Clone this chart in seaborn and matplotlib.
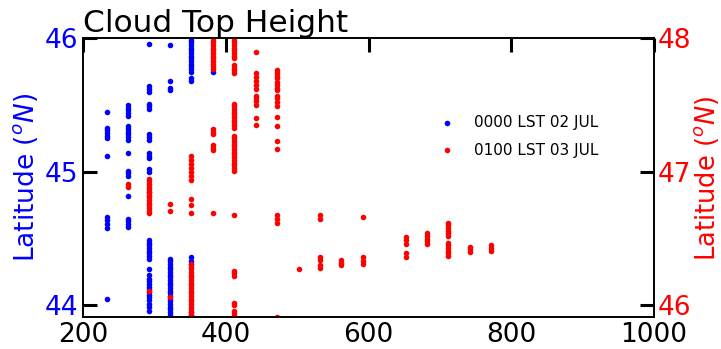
import numpy as np
import pandas as pd
import matplotlib
matplotlib.use("Agg")
import matplotlib.pyplot as plt
import seaborn as sns

# ---- data: 0000 LST 02 JUL (left axis, blue) ----
blue_height = ([233] * 12 + [263] * 20 + [293] * 38 + [322] * 26 + [352] * 20 + [382] * 1)
blue_lat = [
    # 233
    45.45, 45.33, 45.31, 45.29, 45.27, 45.25, 45.12, 44.66, 44.64, 44.61, 44.58, 44.05,
    # 263
    45.50, 45.48, 45.46, 45.44, 45.42, 45.34, 45.32, 45.30, 45.28, 45.26, 45.24, 45.14,
    45.01, 44.99, 44.97, 44.82, 44.65, 44.63, 44.61, 44.59,
    # 293
    45.96, 45.64, 45.62, 45.60, 45.51, 45.49, 45.47, 45.28, 45.26, 45.24, 45.14, 45.12,
    45.10, 45.02, 45.00, 44.85, 44.49, 44.47, 44.45, 44.43, 44.41, 44.39, 44.37, 44.35,
    44.27, 44.23, 44.18, 44.16, 44.14, 44.12, 44.10, 44.08, 44.06, 44.01, 43.99, 43.96,
    44.20, 44.04,
    # 322
    45.95, 45.68, 45.63, 45.61, 44.35, 44.33, 44.31, 44.29, 44.27, 44.25, 44.23, 44.21,
    44.19, 44.17, 44.15, 44.13, 44.11, 44.09, 44.07, 44.05, 44.03, 44.01, 43.99, 43.97,
    43.95, 43.93,
    # 352
    45.99, 45.97, 45.95, 45.93, 45.91, 45.89, 45.87, 45.85, 45.83, 45.81, 45.79, 45.77,
    45.75, 45.70, 45.68, 44.36, 44.33, 44.31, 43.95, 43.93,
    # 382
    45.75,
]

# ---- data: 0100 LST 03 JUL (right axis, red) ----
red_height = ([263] * 2 + [293] * 15 + [322] * 3 + [352] * 30 + [382] * 19 + [412] * 45
              + [442] * 12 + [472] * 20 + [502] * 1 + [532] * 6 + [562] * 3 + [592] * 4
              + [652] * 5 + [682] * 5 + [712] * 12 + [742] * 3 + [772] * 3)
red_lat = [
    # 263
    46.91, 46.89,
    # 293
    46.95, 46.93, 46.91, 46.89, 46.87, 46.85, 46.83, 46.81, 46.79, 46.77, 46.75, 46.73,
    46.71, 46.69, 46.11,
    # 322
    46.76, 46.71, 46.06,
    # 352
    47.12, 47.09, 47.06, 47.03, 47.00, 46.97, 46.94, 46.80, 46.75, 46.69,
    46.31, 46.29, 46.27, 46.25, 46.23, 46.21, 46.19, 46.17, 46.15, 46.13,
    46.11, 46.09, 46.07, 46.05, 46.03, 46.01, 45.99, 45.97, 45.95, 45.93,
    # 382
    47.99, 47.97, 47.95, 47.93, 47.91, 47.89, 47.87, 47.85, 47.83, 47.81, 47.79, 47.77,
    47.32, 47.30, 47.28, 47.20, 47.18, 47.16, 46.69,
    # 412
    47.99, 47.97, 47.95, 47.93, 47.91, 47.89, 47.87, 47.85, 47.80, 47.78, 47.76, 47.74,
    47.51, 47.49, 47.47, 47.45, 47.43, 47.41, 47.39, 47.37, 47.35, 47.33,
    47.27, 47.25, 47.23, 47.21, 47.19, 47.17, 47.15, 47.13, 47.11, 47.09, 47.07, 47.05,
    47.03, 47.01, 46.68, 46.26, 46.24, 46.22, 46.02, 46.00, 45.96, 45.94, 45.92,
    # 442
    47.90, 47.74, 47.71, 47.68, 47.65, 47.62, 47.57, 47.55, 47.53, 47.50, 47.40, 47.35,
    # 472
    47.76, 47.74, 47.72, 47.70, 47.67, 47.65, 47.63, 47.61, 47.57, 47.55, 47.52, 47.49,
    47.41, 47.34, 47.23, 47.17, 46.68, 46.65, 46.62, 45.91,
    # 502
    46.27,
    # 532
    46.68, 46.65, 46.36, 46.34, 46.30, 46.28,
    # 562
    46.34, 46.32, 46.30,
    # 592
    46.66, 46.36, 46.33, 46.31,
    # 652
    46.51, 46.49, 46.46, 46.39, 46.36,
    # 682
    46.54, 46.52, 46.50, 46.48, 46.46,
    # 712
    46.62, 46.60, 46.58, 46.56, 46.54, 46.52, 46.47, 46.45, 46.43, 46.41, 46.39, 46.37,
    # 742
    46.44, 46.42, 46.40,
    # 772
    46.45, 46.43, 46.41,
]

series_labels = ["0000 LST 02 JUL", "0100 LST 03 JUL"]
x_ticks = [200, 400, 600, 800, 1000]
left_ticks = [44, 45, 46]
right_ticks = [46, 47, 48]

blue_df = pd.DataFrame({"height": blue_height, "lat": blue_lat})
red_df = pd.DataFrame({"height": red_height, "lat": red_lat})

sns.set_style("white")
plt.rcParams["font.family"] = ["DejaVu Sans"]
plt.rcParams["text.color"] = "black"
plt.rcParams["axes.labelcolor"] = "black"
plt.rcParams["xtick.color"] = "black"
plt.rcParams["ytick.color"] = "black"

fig = plt.figure(figsize=(7.21, 3.49), dpi=100)
ax = fig.add_axes([0.1151, 0.0908, 0.792, 0.7992])
ax2 = ax.twinx()

sns.scatterplot(data=blue_df, x="height", y="lat", ax=ax, color="blue", s=16,
                linewidth=0, label=series_labels[0], legend=False, clip_on=True)
sns.scatterplot(data=red_df, x="height", y="lat", ax=ax2, color="red", s=16,
                linewidth=0, label=series_labels[1], legend=False, clip_on=True)

ax.set_xlim(200, 1000)
ax.set_ylim(43.91, 46.0)
ax2.set_ylim(45.91, 48.0)
ax.set_xticks(x_ticks)
ax.set_yticks(left_ticks)
ax2.set_yticks(right_ticks)

ax.set_xlabel("")
ax.set_ylabel("Latitude ($^oN$)", color="blue", fontsize=19, labelpad=3)
ax2.set_ylabel("Latitude ($^oN$)", color="red", fontsize=18.5, labelpad=0)
ax.set_title("Cloud Top Height", loc="left", fontsize=22.5, pad=3, color="black")

ax.tick_params(axis="x", direction="in", length=10, width=2.2, labelsize=19,
               top=True, colors="black")
ax.tick_params(axis="y", direction="in", length=10, width=2.2, labelsize=19,
               labelcolor="blue", color="black", left=True, right=False)
ax2.tick_params(axis="y", direction="in", length=10, width=2.2, labelsize=19,
                labelcolor="red", color="black", right=True, left=False, pad=3)
ax2.tick_params(axis="x", top=False, bottom=False)

for a in (ax, ax2):
    for sp in a.spines.values():
        sp.set_linewidth(1.2)
        sp.set_color("black")
        sp.set_visible(True)

h1, l1 = ax.get_legend_handles_labels()
h2, l2 = ax2.get_legend_handles_labels()
leg = ax2.legend(h1 + h2, l1 + l2, loc="center left", bbox_to_anchor=(0.60, 0.65),
                 frameon=False, fontsize=11, labelspacing=0.85, borderaxespad=0,
                 markerscale=1.0, labelcolor="black")

fig.savefig("out.png", dpi=100)
